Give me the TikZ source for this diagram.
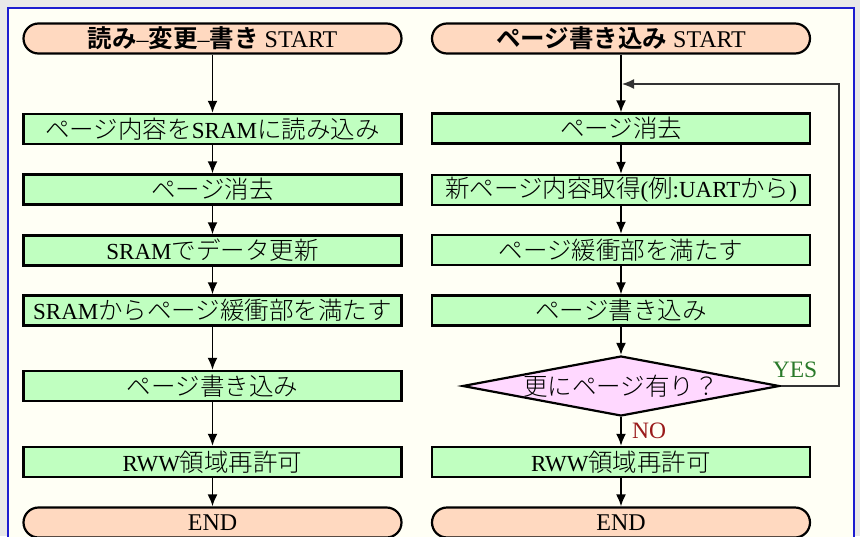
\documentclass[tikz,border=0pt]{standalone}
\usepackage{fontspec}
\setmainfont{Liberation Serif}
\IfFontExistsTF{Noto Sans CJK JP Light}
  {\newfontfamily\jp{Noto Sans CJK JP Light}[BoldFont={Noto Sans CJK JP Bold}]}
  {\newfontfamily\jp{Noto Sans CJK JP}}
\usetikzlibrary{arrows.meta,shapes.geometric}
\definecolor{bggray}{HTML}{E8E8E8}
\definecolor{panelfill}{HTML}{FFFFF5}
\definecolor{panelblue}{HTML}{1C1CD0}
\definecolor{termfill}{HTML}{FFD9C0}
\definecolor{procfill}{HTML}{C0FFC0}
\definecolor{decfill}{HTML}{FFD8FF}
\definecolor{yesgreen}{HTML}{2A7A2A}
\definecolor{nored}{HTML}{9A1A1A}
\definecolor{loopgray}{HTML}{333333}
\newcommand\J[1]{{\jp\fontsize{24.5}{28}\selectfont #1}}
\newcommand\JB[1]{{\jp\bfseries\fontsize{24.5}{28}\selectfont #1}}
\begin{document}
\begin{tikzpicture}[x=1pt,y=-1pt,
  txt/.style={font=\fontsize{23}{28}\selectfont},
  term/.style={font=\fontsize{24}{28}\selectfont,draw,line width=2.2pt,fill=termfill,rounded corners=15pt,
    minimum width=378pt,minimum height=30pt,inner sep=0pt},
  proc/.style={txt,draw,line width=2.4pt,fill=procfill,
    minimum width=378pt,minimum height=30pt,inner sep=0pt},
  dec/.style={diamond,draw,line width=2.2pt,fill=decfill,
    minimum width=317pt,minimum height=60pt,inner sep=0pt},
  arr/.style={line width=1.8pt,-{Latex[length=12pt,width=10pt]}},
  looparr/.style={line width=1.4pt,draw=loopgray,-{Latex[length=12pt,width=10pt]}},
  lab/.style={font=\fontsize{23.5}{26}\selectfont,inner sep=0pt}]
\useasboundingbox (0,0) rectangle (860,536);
\clip (0,0) rectangle (860,536);
\fill[bggray] (0,0) rectangle (860,536);
\filldraw[fill=panelfill,draw=panelblue,line width=1.8pt] (8,8) rectangle (854,560);

% left column
\node[term] (ls) at (212.5,38.5) {\JB{読み}–\JB{変更}–\JB{書き} START};
\node[proc] (l1) at (212.5,129) {\J{ページ内容を}SRAM\J{に読み込み}};
\node[proc] (l2) at (212.5,189.5) {\J{ページ消去}};
\node[proc] (l3) at (212.5,250.5) {SRAM\J{でデータ更新}};
\node[proc] (l4) at (212.5,310.5) {SRAM\J{からページ緩衝部を満たす}};
\node[proc] (l5) at (212.5,386) {\J{ページ書き込み}};
\node[proc] (l6) at (212.5,462) {RWW\J{領域再許可}};
\node[term] (le) at (212.5,522.5) {END};

\draw[arr] (ls) -- (l1);
\draw[arr] (l1) -- (l2);
\draw[arr] (l2) -- (l3);
\draw[arr] (l3) -- (l4);
\draw[arr] (l4) -- (l5);
\draw[arr] (l5) -- (l6);
\draw[arr] (l6) -- (le);

% right column
\node[term] (rs) at (621,38.5) {\JB{ページ書き込み} START};
\node[proc] (r1) at (621,128.5) {\J{ページ消去}};
\node[proc] (r2) at (621,190) {\J{新ページ内容取得}(\J{例}:UART\J{から})};
\node[proc] (r3) at (621,250) {\J{ページ緩衝部を満たす}};
\node[proc] (r4) at (621,310.5) {\J{ページ書き込み}};
\node[dec] (d) at (621,386) {};
\node[txt,inner sep=0pt] (dt) at (d) {\J{更にページ有り？}};
\node[proc] (r5) at (621,462) {RWW\J{領域再許可}};
\node[term] (re) at (621,522.5) {END};

\draw[arr] (rs) -- (r1);
\draw[arr] (r1) -- (r2);
\draw[arr] (r2) -- (r3);
\draw[arr] (r3) -- (r4);
\draw[arr] (r4) -- (d);
\draw[arr] (d) -- (r5);
\draw[arr] (r5) -- (re);

\coordinate (lc) at (839,84);
\coordinate (rin) at (622,84);
\draw[looparr] (d.east) -| (lc) -- (rin);

\node[lab,text=yesgreen] (yes) at (795,370) {YES};
\node[lab,text=nored,anchor=west] (no) at (632,431) {NO};
\end{tikzpicture}
\end{document}
